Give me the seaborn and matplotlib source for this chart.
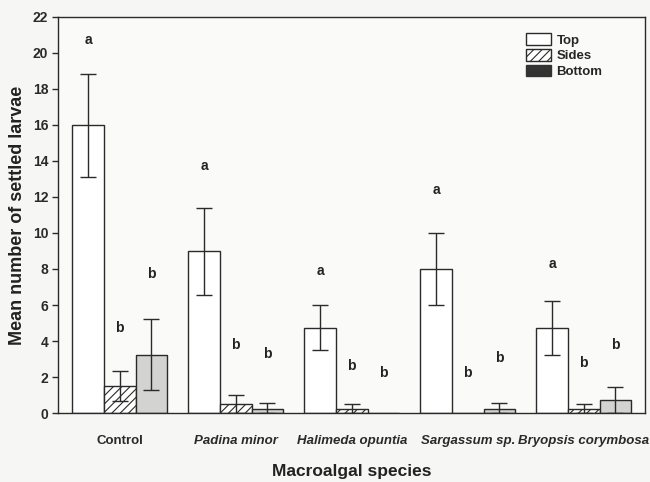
import pandas as pd
import seaborn as sns
import matplotlib.pyplot as plt
from matplotlib.patches import Patch

sns.set_style("ticks")
plt.rcParams['font.family'] = ['Liberation Sans', 'DejaVu Sans']
plt.rcParams['hatch.linewidth'] = 0.8

# data
species = ["Control", "Padina minor", "Halimeda opuntia", "Sargassum sp.", "Bryopsis corymbosa"]
surfaces = ["Top", "Sides", "Bottom"]

top_mean = [16.0, 9.0, 4.75, 8.0, 4.75]
sides_mean = [1.5, 0.5, 0.25, 0.0, 0.25]
bottom_mean = [3.25, 0.25, 0.0, 0.25, 0.75]

top_low = [13.1, 6.55, 3.5, 6.0, 3.2]
top_high = [18.85, 11.4, 6.0, 10.0, 6.2]
sides_low = [0.65, 0.0, 0.0, 0.0, 0.0]
sides_high = [2.35, 1.0, 0.5, 0.0, 0.5]
bottom_low = [1.3, 0.0, 0.0, 0.0, 0.0]
bottom_high = [5.2, 0.55, 0.0, 0.55, 1.45]

top_letters = ["a", "a", "a", "a", "a"]
sides_letters = ["b", "b", "b", "b", "b"]
bottom_letters = ["b", "b", "b", "b", "b"]
top_letter_y = [20.7, 13.7, 7.9, 12.4, 8.3]
sides_letter_y = [4.7, 3.8, 2.6, 2.2, 2.8]
bottom_letter_y = [7.7, 3.3, 2.2, 3.05, 3.8]

rows = []
for surf, means in zip(surfaces, [top_mean, sides_mean, bottom_mean]):
    for sp, m in zip(species, means):
        rows.append({"species": sp, "surface": surf, "mean": m})
df = pd.DataFrame(rows)

lows = [top_low, sides_low, bottom_low]
highs = [top_high, sides_high, bottom_high]
letters = [top_letters, sides_letters, bottom_letters]
letter_y = [top_letter_y, sides_letter_y, bottom_letter_y]

fig = plt.figure(figsize=(6.5, 4.82), dpi=100, facecolor="#f6f6f4")
ax = fig.add_axes([0.089, 0.143, 0.903, 0.822], facecolor="#fafaf8")

palette = {"Top": "white", "Sides": "white", "Bottom": "#d3d3d1"}
sns.barplot(data=df, x="species", y="mean", hue="surface", order=species,
            hue_order=surfaces, palette=palette, width=0.82, gap=0,
            edgecolor="#2a2a2a", linewidth=1.0, errorbar=None, legend=False, ax=ax)

# grab the bar containers before errorbar adds its own
bar_conts = list(ax.containers)
for i, cont in enumerate(bar_conts):
    for j, bar in enumerate(cont):
        if surfaces[i] == "Sides":
            bar.set_hatch("////")
        xc = bar.get_x() + bar.get_width() / 2
        m = bar.get_height()
        lo, hi = lows[i][j], highs[i][j]
        if hi > lo:
            ax.errorbar(xc, m, yerr=[[m - lo], [hi - m]], fmt="none",
                        ecolor="#2a2a2a", elinewidth=1.0, capsize=6, capthick=1.0)
        ax.text(xc, letter_y[i][j], letters[i][j], ha="center", va="center",
                fontsize=10, fontweight="bold", color="#222222")

ax.set_ylim(0, 22)
ax.set_yticks(range(0, 23, 2))
ax.set_xlim(-0.534, 4.526)

for s in ax.spines.values():
    s.set_color("#2a2a2a")
    s.set_linewidth(1.0)

ax.tick_params(axis="y", direction="out", length=4, width=1, labelsize=10, pad=3, colors="#2a2a2a")
ax.tick_params(axis="x", length=0, pad=16, labelsize=9.5, colors="#2a2a2a")
for lab in ax.get_yticklabels():
    lab.set_fontweight("bold")
for lab in ax.get_xticklabels():
    lab.set_fontweight("bold")
    if lab.get_text() != "Control":
        lab.set_style("italic")

ax.set_xlabel("Macroalgal species", fontsize=12.5, fontweight="bold", labelpad=12, color="#222222")
ax.set_ylabel("Mean number of settled larvae", fontsize=13, fontweight="bold", labelpad=5, color="#222222")

handles = [Patch(facecolor="white", edgecolor="#2a2a2a", label="Top"),
           Patch(facecolor="white", edgecolor="#2a2a2a", hatch="////", label="Sides"),
           Patch(facecolor="#333333", edgecolor="#333333", label="Bottom")]
leg = ax.legend(handles=handles, loc="upper left", bbox_to_anchor=(0.78, 0.985),
                frameon=False, prop={"size": 9.5, "weight": "bold"},
                handlelength=1.85, handleheight=0.95,
                handletextpad=0.45, labelspacing=0.2, borderpad=0.3)

fig.savefig("out.png", dpi=100, facecolor=fig.get_facecolor())
